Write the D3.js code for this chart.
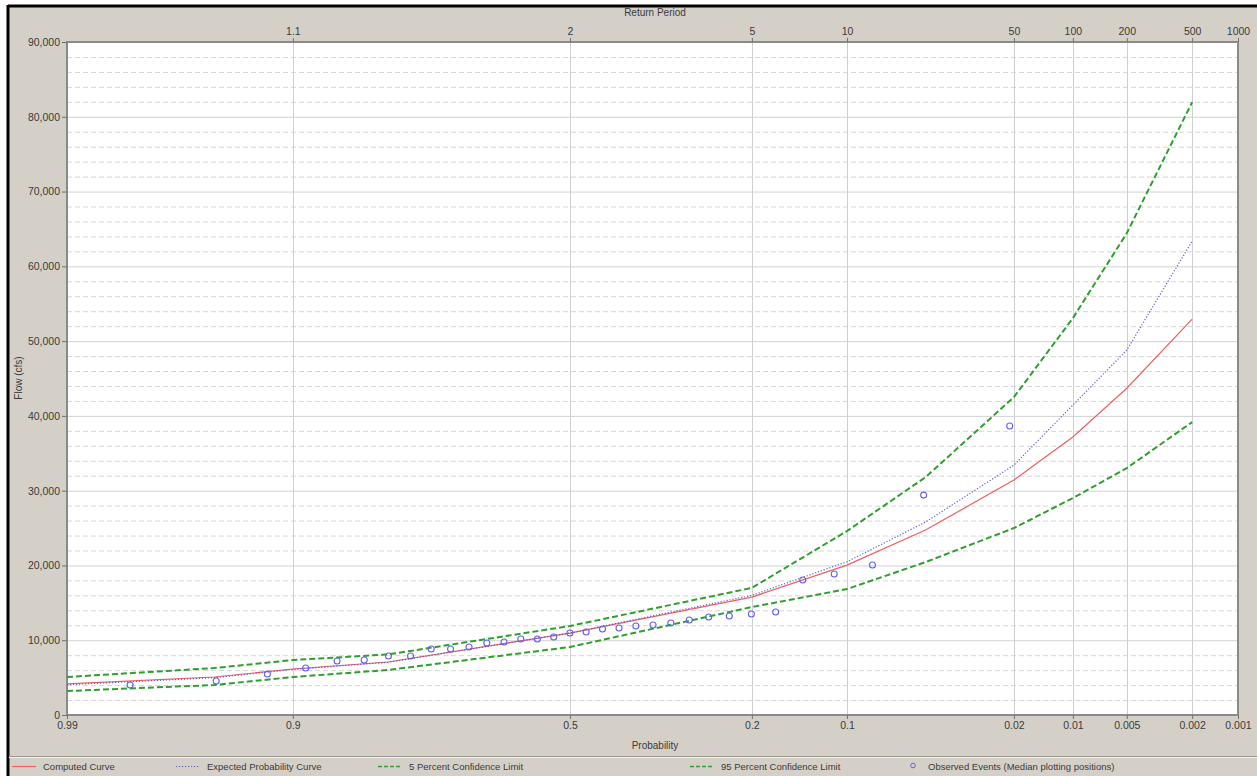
<!DOCTYPE html>
<html>
<head>
<meta charset="utf-8">
<script src="https://cdn.jsdelivr.net/npm/d3@7"></script>
<style>
  html, body { margin: 0; padding: 0; background: #ffffff; }
  svg { display: block; }
  text { font-family: "Liberation Sans", Arial, sans-serif; }
</style>
</head>
<body>
<svg id="chart" width="1257" height="776"></svg>
<script>
// ---------------- data ----------------
const probTicks   = [0.99, 0.9, 0.5, 0.2, 0.1, 0.02, 0.01, 0.005, 0.002, 0.001];
const probLabels  = ["0.99", "0.9", "0.5", "0.2", "0.1", "0.02", "0.01", "0.005", "0.002", "0.001"];
const returnTicks = [0.9, 0.5, 0.2, 0.1, 0.02, 0.01, 0.005, 0.002, 0.001];
const returnLabels = ["1.1", "2", "5", "10", "50", "100", "200", "500", "1000"];
const flowTicks = [0, 10000, 20000, 30000, 40000, 50000, 60000, 70000, 80000, 90000];

const curveProbs = [0.99, 0.95, 0.9, 0.8, 0.5, 0.2, 0.1, 0.05, 0.02, 0.01, 0.005, 0.002];
const computedCurve = [4150, 5080, 6150, 7090, 10960, 15770, 20050, 24730, 31420, 37170, 43700, 52940];
const expectedCurve = [4050, 4990, 6080, 7050, 10960, 16000, 20500, 25800, 33420, 41440, 48800, 63370];
const conf5Curve    = [5080, 6280, 7350, 8100, 11900, 17000, 24600, 31800, 42510, 53070, 64440, 81950];
const conf95Curve   = [3210, 4010, 5080, 6020, 9090, 14440, 16840, 20450, 25000, 29010, 33020, 39170];

const obsProbs = [0.02096, 0.05090, 0.08084, 0.11078, 0.14072, 0.17066, 0.20060, 0.23054, 0.26048,
  0.29042, 0.32036, 0.35030, 0.38024, 0.41018, 0.44012, 0.47006, 0.50000, 0.52994, 0.55988,
  0.58982, 0.61976, 0.64970, 0.67964, 0.70958, 0.73952, 0.76946, 0.79940, 0.82934, 0.85928,
  0.88922, 0.91916, 0.94910, 0.97904];
const obsFlows = [38640, 29410, 20050, 18850, 18050, 13770, 13500, 13240, 13100, 12700, 12300,
  12030, 11900, 11630, 11500, 11100, 10960, 10430, 10160, 10160, 9760, 9630, 9090, 8820, 8820,
  7890, 7890, 7350, 7220, 6280, 5480, 4550, 4010];

const legendItems = [
  {label: "Computed Curve", kind: "computed"},
  {label: "Expected Probability Curve", kind: "expected"},
  {label: "5 Percent Confidence Limit", kind: "conf"},
  {label: "95 Percent Confidence Limit", kind: "conf"},
  {label: "Observed Events (Median plotting positions)", kind: "obs"}
];

// ---------------- normal quantile (Acklam) ----------------
function normInv(p) {
  const a = [-3.969683028665376e+01, 2.209460984245205e+02, -2.759285104469687e+02, 1.383577518672690e+02, -3.066479806614716e+01, 2.506628277459239e+00];
  const b = [-5.447609879822406e+01, 1.615858368580409e+02, -1.556989798598866e+02, 6.680131188771972e+01, -1.328068155288572e+01];
  const c = [-7.784894002430293e-03, -3.223964580411365e-01, -2.400758277161838e+00, -2.549732539343734e+00, 4.374664141464968e+00, 2.938163982698783e+00];
  const d = [7.784695709041462e-03, 3.224671290700398e-01, 2.445134137142996e+00, 3.754408661907416e+00];
  const pl = 0.02425, ph = 1 - pl;
  let q, r;
  if (p < pl) {
    q = Math.sqrt(-2 * Math.log(p));
    return (((((c[0]*q+c[1])*q+c[2])*q+c[3])*q+c[4])*q+c[5]) / ((((d[0]*q+d[1])*q+d[2])*q+d[3])*q+1);
  } else if (p <= ph) {
    q = p - 0.5; r = q * q;
    return (((((a[0]*r+a[1])*r+a[2])*r+a[3])*r+a[4])*r+a[5])*q / (((((b[0]*r+b[1])*r+b[2])*r+b[3])*r+b[4])*r+1);
  } else {
    q = Math.sqrt(-2 * Math.log(1 - p));
    return -(((((c[0]*q+c[1])*q+c[2])*q+c[3])*q+c[4])*q+c[5]) / ((((d[0]*q+d[1])*q+d[2])*q+d[3])*q+1);
  }
}
// exceedance probability -> standard normal variate
const zOf = p => normInv(1 - p);

// ---------------- layout ----------------
const svg = d3.select("#chart");
const W = 1257, H = 776;
const plot = {left: 67, top: 42, right: 1238, bottom: 715};

const zScale = d3.scaleLinear().domain([zOf(0.99), zOf(0.001)]).range([plot.left, plot.right]);
const x = p => zScale(zOf(p));
const y = d3.scaleLinear().domain([0, 90000]).range([plot.bottom, plot.top]);

// background
svg.append("rect").attr("x", 0).attr("y", 0).attr("width", W).attr("height", H).attr("fill", "#ffffff");
svg.append("rect").attr("x", 9).attr("y", 6).attr("width", W - 9).attr("height", H - 6).attr("fill", "#d4d0c8");
// dark frame top/left
svg.append("line").attr("x1", 8).attr("x2", W).attr("y1", 6).attr("y2", 6).attr("stroke", "#000").attr("stroke-width", 3);
svg.append("line").attr("x1", 8).attr("x2", 8).attr("y1", 5).attr("y2", H).attr("stroke", "#000").attr("stroke-width", 3);

// plot area
svg.append("rect").attr("x", plot.left).attr("y", plot.top)
  .attr("width", plot.right - plot.left).attr("height", plot.bottom - plot.top).attr("fill", "#ffffff");

// minor horizontal grid (dashed)
const gGrid = svg.append("g");
gGrid.selectAll("line.minor").data(d3.range(2000, 90000, 2000).filter(v => v % 10000 !== 0))
  .join("line").attr("class", "minor")
  .attr("x1", plot.left).attr("x2", plot.right)
  .attr("y1", d => y(d) + 0.5).attr("y2", d => y(d) + 0.5)
  .attr("stroke", "#d6d6d6").attr("stroke-width", 1).attr("stroke-dasharray", "5,3");
// major horizontal grid
gGrid.selectAll("line.major").data(flowTicks.filter(v => v > 0 && v < 90000))
  .join("line").attr("class", "major")
  .attr("x1", plot.left).attr("x2", plot.right)
  .attr("y1", d => y(d) + 0.5).attr("y2", d => y(d) + 0.5)
  .attr("stroke", "#d2d2d2").attr("stroke-width", 1);
// vertical grid
gGrid.selectAll("line.v").data(probTicks.filter(p => p < 0.99 && p > 0.001))
  .join("line").attr("class", "v")
  .attr("x1", d => Math.round(x(d)) + 0.5).attr("x2", d => Math.round(x(d)) + 0.5)
  .attr("y1", plot.top).attr("y2", plot.bottom)
  .attr("stroke", "#cfcfcf").attr("stroke-width", 1);

// plot border
svg.append("rect").attr("x", plot.left).attr("y", plot.top)
  .attr("width", plot.right - plot.left).attr("height", plot.bottom - plot.top)
  .attr("fill", "none").attr("stroke", "#8a8a8a").attr("stroke-width", 2);

// ---------------- axes ----------------
const textCol = "#3a3a3a";
const fontFam = "'Liberation Sans', Arial, sans-serif";
// left axis
const gLeft = svg.append("g").attr("transform", `translate(${plot.left},0)`);
const leftAxis = d3.axisLeft(y).tickValues(flowTicks).tickSize(5).tickPadding(2).tickFormat(d3.format(","));
gLeft.call(leftAxis);
gLeft.select(".domain").remove();
gLeft.selectAll(".tick line").attr("stroke", "#707070");
gLeft.selectAll(".tick text").attr("fill", textCol).style("font-size", "10.5px").style("font-family", fontFam);

// bottom axis
const gBottom = svg.append("g").attr("transform", `translate(0,${plot.bottom})`);
const bottomAxis = d3.axisBottom(zScale).tickValues(probTicks.map(zOf)).tickSize(4).tickPadding(3)
  .tickFormat((d, i) => probLabels[i]);
gBottom.call(bottomAxis);
gBottom.select(".domain").remove();
gBottom.selectAll(".tick line").attr("stroke", "#707070");
gBottom.selectAll(".tick text").attr("fill", textCol).style("font-size", "10.5px").style("font-family", fontFam);

// top axis (return period)
const gTop = svg.append("g").attr("transform", `translate(0,${plot.top})`);
const topAxis = d3.axisTop(zScale).tickValues(returnTicks.map(zOf)).tickSize(4).tickPadding(3)
  .tickFormat((d, i) => returnLabels[i]);
gTop.call(topAxis);
gTop.select(".domain").remove();
gTop.selectAll(".tick line").attr("stroke", "#707070");
gTop.selectAll(".tick text").attr("fill", textCol).style("font-size", "10.5px").style("font-family", fontFam);

// axis titles
svg.append("text").attr("x", 655).attr("y", 16).attr("text-anchor", "middle")
  .attr("fill", textCol).style("font-size", "10px").text("Return Period");
svg.append("text").attr("x", 655).attr("y", 749).attr("text-anchor", "middle")
  .attr("fill", textCol).style("font-size", "10px").text("Probability");
svg.append("text").attr("transform", "translate(22,378) rotate(-90)").attr("text-anchor", "middle")
  .attr("fill", textCol).style("font-size", "10px").text("Flow (cfs)");

// ---------------- series ----------------
svg.append("clipPath").attr("id", "plotclip").append("rect")
  .attr("x", plot.left).attr("y", plot.top).attr("width", plot.right - plot.left).attr("height", plot.bottom - plot.top);
const gData = svg.append("g").attr("clip-path", "url(#plotclip)");

const lineGen = d3.line().x(d => x(d[0])).y(d => y(d[1])).curve(d3.curveLinear);
const mk = arr => curveProbs.map((p, i) => [p, arr[i]]);

const styles = {
  computed: {stroke: "#ef5f5f", width: 1.2, dash: null},
  expected: {stroke: "#5c5cd6", width: 1.2, dash: "1.2,1.8"},
  conf: {stroke: "#2f9f2f", width: 2, dash: "6,3"}
};

gData.append("path").datum(mk(conf5Curve)).attr("d", lineGen).attr("fill", "none")
  .attr("stroke", styles.conf.stroke).attr("stroke-width", styles.conf.width).attr("stroke-dasharray", styles.conf.dash);
gData.append("path").datum(mk(conf95Curve)).attr("d", lineGen).attr("fill", "none")
  .attr("stroke", styles.conf.stroke).attr("stroke-width", styles.conf.width).attr("stroke-dasharray", styles.conf.dash);
gData.append("path").datum(mk(computedCurve)).attr("d", lineGen).attr("fill", "none")
  .attr("stroke", styles.computed.stroke).attr("stroke-width", styles.computed.width);
gData.append("path").datum(mk(expectedCurve)).attr("d", lineGen).attr("fill", "none")
  .attr("stroke", styles.expected.stroke).attr("stroke-width", styles.expected.width).attr("stroke-dasharray", styles.expected.dash);

gData.selectAll("circle.obs").data(obsProbs.map((p, i) => [p, obsFlows[i]]))
  .join("circle").attr("class", "obs")
  .attr("cx", d => x(d[0])).attr("cy", d => y(d[1])).attr("r", 3)
  .attr("fill", "none").attr("stroke", "#6262ee").attr("stroke-width", 1.1);

// ---------------- legend ----------------
svg.append("line").attr("x1", 9).attr("x2", W).attr("y1", 756.5).attr("y2", 756.5).attr("stroke", "#9a9890").attr("stroke-width", 1);
svg.append("line").attr("x1", 9).attr("x2", W).attr("y1", 757.5).attr("y2", 757.5).attr("stroke", "#f2f0ea").attr("stroke-width", 1);

const legendX = [12, 176, 378, 690, 906];
const gLeg = svg.append("g");
const ly = 767;
legendItems.forEach((it, i) => {
  const x0 = legendX[i];
  let textX = x0 + 31;
  if (it.kind === "computed") {
    gLeg.append("line").attr("x1", x0).attr("x2", x0 + 24).attr("y1", ly - 0.5).attr("y2", ly - 0.5)
      .attr("stroke", styles.computed.stroke).attr("stroke-width", 1.2);
  } else if (it.kind === "expected") {
    gLeg.append("line").attr("x1", x0).attr("x2", x0 + 24).attr("y1", ly - 0.5).attr("y2", ly - 0.5)
      .attr("stroke", styles.expected.stroke).attr("stroke-width", 1.2).attr("stroke-dasharray", styles.expected.dash);
  } else if (it.kind === "conf") {
    gLeg.append("line").attr("x1", x0).attr("x2", x0 + 24).attr("y1", ly - 0.5).attr("y2", ly - 0.5)
      .attr("stroke", styles.conf.stroke).attr("stroke-width", 1.6).attr("stroke-dasharray", "4,2");
  } else {
    gLeg.append("circle").attr("cx", x0 + 7).attr("cy", ly - 1.5).attr("r", 2.3)
      .attr("fill", "none").attr("stroke", "#6262ee").attr("stroke-width", 1);
    textX = x0 + 22;
  }
  gLeg.append("text").attr("x", textX).attr("y", ly + 3).attr("fill", textCol)
    .style("font-size", "9.5px").text(it.label);
});
</script>
</body>
</html>
